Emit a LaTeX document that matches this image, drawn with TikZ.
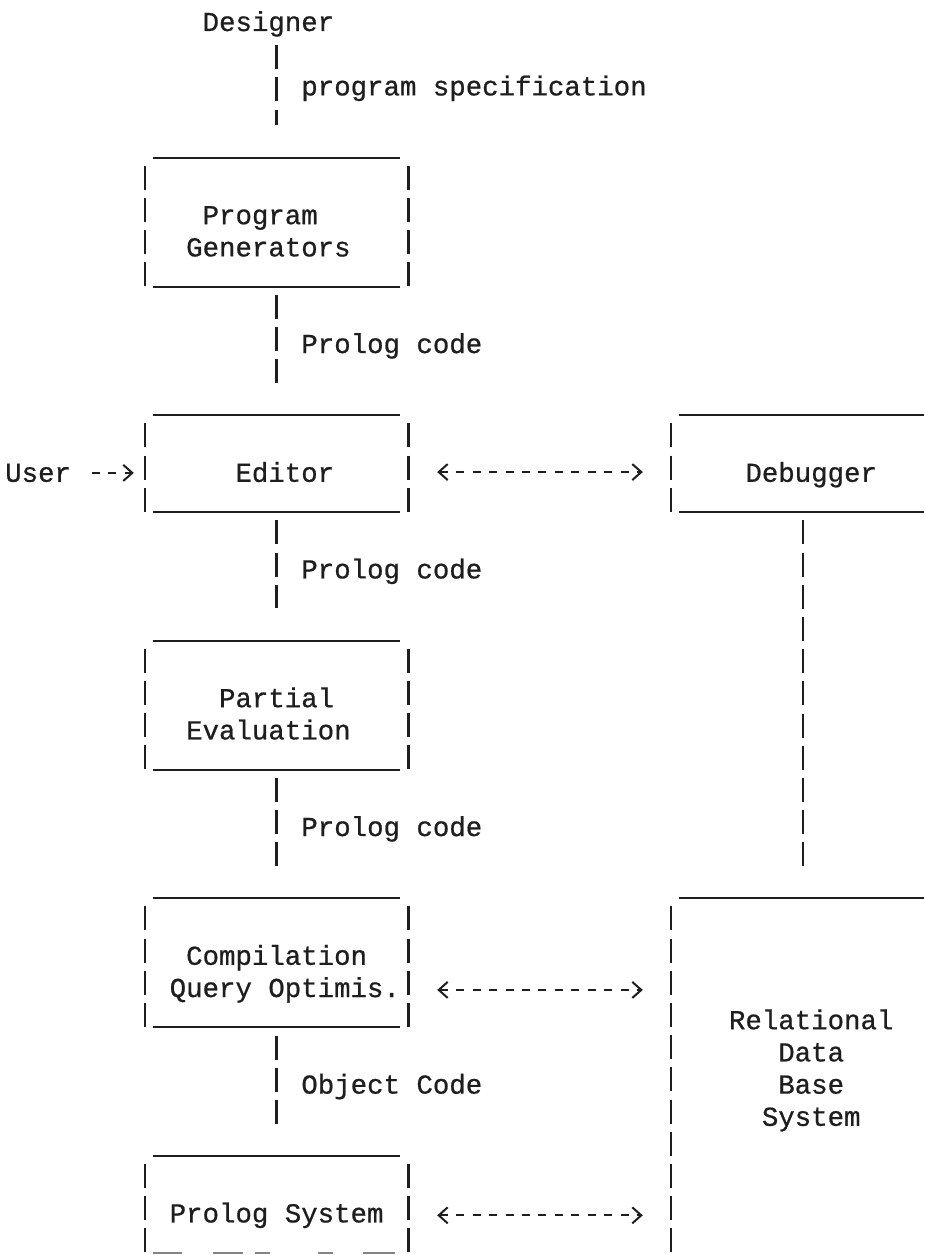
\documentclass[tikz,border=0pt]{standalone}
\usepackage{fontspec}
\newfontfamily\inkmono{Liberation Mono}[FakeBold=0.7]
\usetikzlibrary{arrows.meta}
\definecolor{ink}{HTML}{1E1E1E}
\newcommand\asciibox[1]{%
  \draw[hline] ([xshift=8.2pt]#1.north west) -- ([xshift=-8.2pt]#1.north east);
  \draw[hline] ([xshift=8.2pt]#1.south west) -- ([xshift=-8.2pt]#1.south east);
  \draw[vbar] ([yshift=-8.2pt]#1.north west) -- (#1.south west);
  \draw[vbar] ([yshift=-8.2pt]#1.north east) -- (#1.south east);
}
\begin{document}
\begin{tikzpicture}[x=1pt,y=-1pt,
  txt/.style={font=\inkmono\fontsize{27.4}{30}\selectfont, inner sep=0pt, anchor=base, text=ink},
  boxn/.style={rectangle, inner sep=0pt, draw=none, minimum width=263.2pt},
  hline/.style={ink, line width=2pt},
  vbar/.style={ink, line width=2.4pt, dash pattern=on 24pt off 8.2pt},
  conn/.style={vbar, shorten <=8.2pt, shorten >=32.2pt},
  tipb/.tip={Straight Barb[length=9pt,width=16pt]},
  darr/.style={ink, line width=2pt, dash pattern=on 8pt off 8.45pt, tipb-tipb, shorten <=28.8pt, shorten >=28.4pt},
  uarr/.style={ink, line width=2pt, dash pattern=on 8pt off 8.45pt, -tipb, shorten <=20.6pt, shorten >=11pt},
]
\fill[white] (0,0) rectangle (924,1255);
\useasboundingbox (0,0) rectangle (924,1255);

% box areas
\node[boxn, minimum height=128.8pt] (pg) at (276.6,222.2) {};
\node[boxn, minimum height=96.6pt]  (ed) at (276.6,463.7) {};
\node[boxn, minimum height=128.8pt] (pe) at (276.6,705.2) {};
\node[boxn, minimum height=128.8pt] (co) at (276.6,962.8) {};
\node[boxn, minimum height=96.6pt]  (ps) at (276.6,1204.3) {};
\node[boxn, minimum width=252.6pt, minimum height=96.6pt]  (db) at (797.7,463.7) {};
\node[boxn, minimum width=252.6pt, minimum height=356.6pt] (rd) at (797.7,1076.7) {};

% texts
\node[txt] (des)  at (268.4,31)    {Designer};
\node[txt] (spec) at (474,95.4)    {program specification};
\node[txt] (pg1)  at (260.2,224.2) {Program};
\node[txt] (pg2)  at (268.4,256.4) {Generators};
\node[txt] (c1)   at (391.8,353)   {Prolog code};
\node[txt] (user) at (38.1,481.8)  {User};
\node[txt] (edt)  at (284.8,481.8) {Editor};
\node[txt] (dbt)  at (811.2,481.8) {Debugger};
\node[txt] (c2)   at (391.8,578.4) {Prolog code};
\node[txt] (pe1)  at (276.6,707.2) {Partial};
\node[txt] (pe2)  at (268.4,739.4) {Evaluation};
\node[txt] (c3)   at (391.8,836)   {Prolog code};
\node[txt] (co1)  at (276.6,964.8) {Compilation};
\node[txt] (co2)  at (284.8,997)   {Query Optimis.};
\node[txt] (rd1)  at (811.2,1029.2) {Relational};
\node[txt] (rd2)  at (811.2,1061.4) {Data};
\node[txt] (rd3)  at (811.2,1093.6) {Base};
\node[txt] (rd4)  at (811.2,1125.8) {System};
\node[txt] (c4)   at (391.8,1093.6) {Object Code};
\node[txt] (pst)  at (276.6,1222.4) {Prolog System};

% frames
\asciibox{pg}
\asciibox{ed}
\asciibox{pe}
\asciibox{co}
\draw[hline] ([xshift=8.2pt]ps.north west) -- ([xshift=-8.2pt]ps.north east);
\draw[vbar] ([yshift=-8.2pt]ps.north west) -- (ps.south west);
\draw[vbar] ([yshift=-8.2pt]ps.north east) -- (ps.south east);
\draw[ink!55, line width=2pt, dash pattern=on 29pt off 31pt on 30pt off 12pt on 15pt off 48pt on 15pt off 30pt on 32pt off 20pt]
  ([xshift=8.2pt]ps.south west) -- ([xshift=-8.2pt]ps.south east);
\draw[hline] ([xshift=8.2pt]db.north west) -- (db.north east);
\draw[hline] ([xshift=8.2pt]db.south west) -- (db.south east);
\draw[vbar] ([yshift=-8.2pt]db.north west) -- (db.south west);
\draw[hline] ([xshift=8.2pt]rd.north west) -- (rd.north east);
\draw[vbar] ([yshift=-8.2pt]rd.north west) -- (rd.south west);

% connectors
\draw[vbar, shorten <=14.2pt, shorten >=32.2pt] (pg.north |- des.base) -- (pg.north);
\draw[conn] (pg.south) -- (ed.north);
\draw[conn] (ed.south) -- (pe.north);
\draw[conn] (pe.south) -- (co.north);
\draw[conn] (co.south) -- (ps.north);
\draw[conn] ([xshift=5.3pt]db.south) -- ([xshift=5.3pt]rd.north);
\draw[darr] (ed.east |- edt.center) -- (db.west |- edt.center);
\draw[darr] (co.east |- co2.center) -- (rd.west |- co2.center);
\draw[darr] (ps.east |- pst.center) -- (rd.west |- pst.center);
\draw[uarr] (user.east) -- (ed.west |- user.east);
\end{tikzpicture}
\end{document}
